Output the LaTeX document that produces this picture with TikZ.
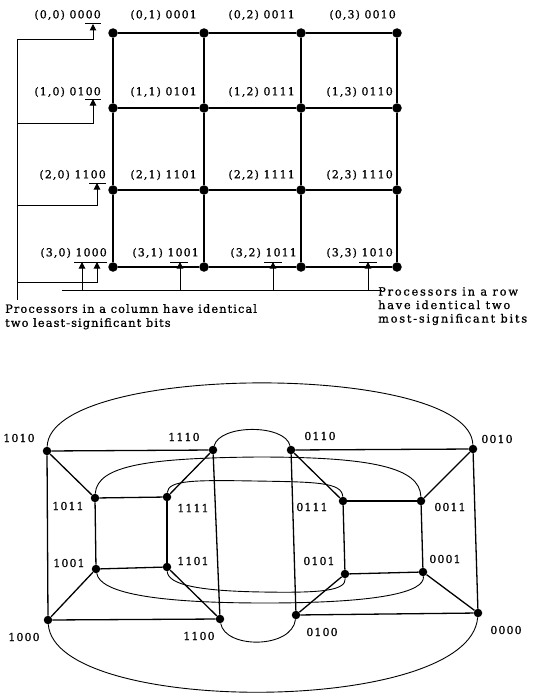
\documentclass[tikz,border=0pt]{standalone}
\usepackage{fontspec}
\setmainfont{DejaVu Serif}[LetterSpace=10,FakeBold=1]
\usetikzlibrary{arrows.meta}
\begin{document}
\begin{tikzpicture}[x=1pt,y=-1pt,
  dot/.style={circle,fill=black,inner sep=0pt,minimum size=9.5pt},
  sdot/.style={circle,fill=black,inner sep=0pt,minimum size=8.5pt},
  lab/.style={inner sep=0pt,font=\fontsize{11}{13}\selectfont},
  txt/.style={inner sep=0pt,align=left,font=\fontsize{11.3}{14}\selectfont},
  gridline/.style={line width=1.6pt},
  edge/.style={line width=1.3pt},
  wire/.style={line width=1pt},
  wrap/.style={line width=0.9pt},
  bar/.style={line width=1pt},
  diode/.style={line width=1pt,-{Triangle[width=6.5pt,length=6.5pt]}},
]
\useasboundingbox (0,0) rectangle (534,693);

% ---------------- top: 4x4 mesh ----------------
\foreach \i/\y in {0/33,1/108,2/190,3/267}
  \foreach \j/\x in {0/113,1/204,2/301,3/397}
    \node[dot] (g\i\j) at (\x,\y) {};
\foreach \i in {0,...,3}{
  \draw[gridline] (g\i0) -- (g\i1) -- (g\i2) -- (g\i3);
  \draw[gridline] (g0\i) -- (g1\i) -- (g2\i) -- (g3\i);
}

% labels
\node[lab,anchor=east] (l00) at (101,15) {(0,0) 0000};
\node[lab,anchor=east] (l01) at (197,15) {(0,1) 0001};
\node[lab,anchor=east] (l02) at (295,15) {(0,2) 0011};
\node[lab,anchor=east] (l03) at (396,15) {(0,3) 0010};
\node[lab,anchor=east] (l10) at (101,92) {(1,0) 0100};
\node[lab,anchor=east] (l11) at (197,92) {(1,1) 0101};
\node[lab,anchor=east] (l12) at (295,92) {(1,2) 0111};
\node[lab,anchor=east] (l13) at (393,92) {(1,3) 0110};
\node[lab,anchor=east] (l20) at (106,175) {(2,0) 1100};
\node[lab,anchor=east] (l21) at (197,175) {(2,1) 1101};
\node[lab,anchor=east] (l22) at (295,175) {(2,2) 1111};
\node[lab,anchor=east] (l23) at (393,175) {(2,3) 1110};
\node[lab,anchor=east] (l30) at (107,253) {(3,0) 1000};
\node[lab,anchor=east] (l31) at (199,253) {(3,1) 1001};
\node[lab,anchor=east] (l32) at (297,253) {(3,2) 1011};
\node[lab,anchor=east] (l33) at (393,253) {(3,3) 1010};

% diode bars
\draw[bar] (85,24) -- (101,24);
\draw[bar] (85,99) -- (101,99);
\draw[bar] (89,183) -- (106,183);
\draw[bar] (74,262) -- (107,262);
\draw[bar] (170,262) -- (188,262);
\draw[bar] (264,262) -- (282,262);
\draw[bar] (359,262) -- (377,262);

% column bus
\coordinate (cbT) at (17,40);
\coordinate (cbB) at (17,300);
\coordinate (cb1) at (17,123);
\coordinate (cb2) at (17,205);
\coordinate (cb3) at (17,282);
\coordinate (cd0) at (93,24);
\coordinate (cd1) at (93,99);
\coordinate (cd2) at (97,183);
\coordinate (cd3) at (97,262);
\draw[wire] (cbT) -- (cbB);
\draw[diode] (cbT) -| (cd0);
\draw[diode] (cb1) -| (cd1);
\draw[diode] (cb2) -| (cd2);
\draw[diode] (cb3) -| (cd3);

% row bus
\coordinate (rbL) at (62,290);
\coordinate (rbR) at (382,290);
\draw[wire] (rbL) -- (rbR);
\foreach \k/\x in {0/82,1/180,2/273,3/368}{
  \coordinate (rs\k) at (\x,290);
  \coordinate (rd\k) at (\x,262);
  \draw[diode] (rs\k) -- (rd\k);
}

\node[txt,anchor=north west] (t1) at (5,304) {Processors in a column have identical\\two least-significant bits};
\node[txt,anchor=north west,font=\fontsize{11.3}{13.5}\selectfont\addfontfeature{LetterSpace=16}] (t2) at (378,287) {Processors in a row\\have identical two\\most-significant bits};

% ---------------- bottom: torus drawing ----------------
\node[sdot] (b1010) at (47,451) {};
\node[sdot] (b1110) at (213,450) {};
\node[sdot] (b1011) at (95,498) {};
\node[sdot] (b1111) at (167,497) {};
\node[sdot] (b1001) at (96,569) {};
\node[sdot] (b1101) at (167,567) {};
\node[sdot] (b1000) at (48,620) {};
\node[sdot] (b1100) at (220,619) {};
\node[sdot] (b0110) at (291,450) {};
\node[sdot] (b0010) at (473,449) {};
\node[sdot] (b0111) at (343,501) {};
\node[sdot] (b0011) at (421,501) {};
\node[sdot] (b0101) at (345,574) {};
\node[sdot] (b0001) at (423,572) {};
\node[sdot] (b0100) at (296,615) {};
\node[sdot] (b0000) at (478,613) {};

\foreach \a/\b in {1010/1110,1010/1011,1010/1000,1110/1111,1110/1100,1011/1111,
  1011/1001,1111/1101,1001/1101,1001/1000,1101/1100,1000/1100,
  0110/0010,0110/0111,0110/0100,0010/0011,0010/0000,0111/0011,
  0111/0101,0011/0001,0101/0001,0101/0100,0001/0000,0100/0000}
  \draw[edge] (b\a) -- (b\b);

% wrap-around curves
\draw[wrap] (b1010) .. controls (50,362) and (470,362) .. (b0010);
\draw[wrap] (b1000) .. controls (55,716) and (470,716) .. (b0000);
\draw[wrap] (b1110) .. controls (220,424) and (285,424) .. (b0110);
\draw[wrap] (b1100) .. controls (225,649) and (292,649) .. (b0100);
\draw[wrap] (b1011) .. controls (97,465) and (150,458) .. (258,457)
                    .. controls (370,457) and (420,467) .. (b0011);
\draw[wrap] (b1111) .. controls (168,480) and (195,480) .. (255,481)
                    .. controls (315,482) and (342,482) .. (b0111);
\draw[wrap] (b1001) .. controls (100,592) and (150,603) .. (265,603)
                    .. controls (380,603) and (425,592) .. (b0001);
\draw[wrap] (b1101) .. controls (168,585) and (200,591) .. (262,592)
                    .. controls (320,593) and (346,591) .. (b0101);

% labels
\node[lab] (c1010) at (19,438) {1010};
\node[lab] (c1110) at (184,437) {1110};
\node[lab] (c1011) at (68,506) {1011};
\node[lab] (c1111) at (193,508) {1111};
\node[lab] (c0110) at (320,436) {0110};
\node[lab] (c0010) at (497,439) {0010};
\node[lab] (c0111) at (312,507) {0111};
\node[lab] (c0011) at (450,507) {0011};
\node[lab] (c1001) at (69,563) {1001};
\node[lab] (c1101) at (193,561) {1101};
\node[lab] (c1000) at (24,637) {1000};
\node[lab] (c1100) at (199,636) {1100};
\node[lab] (c0101) at (319,561) {0101};
\node[lab] (c0001) at (445,559) {0001};
\node[lab] (c0100) at (322,632) {0100};
\node[lab] (c0000) at (506,630) {0000};
\end{tikzpicture}
\end{document}
